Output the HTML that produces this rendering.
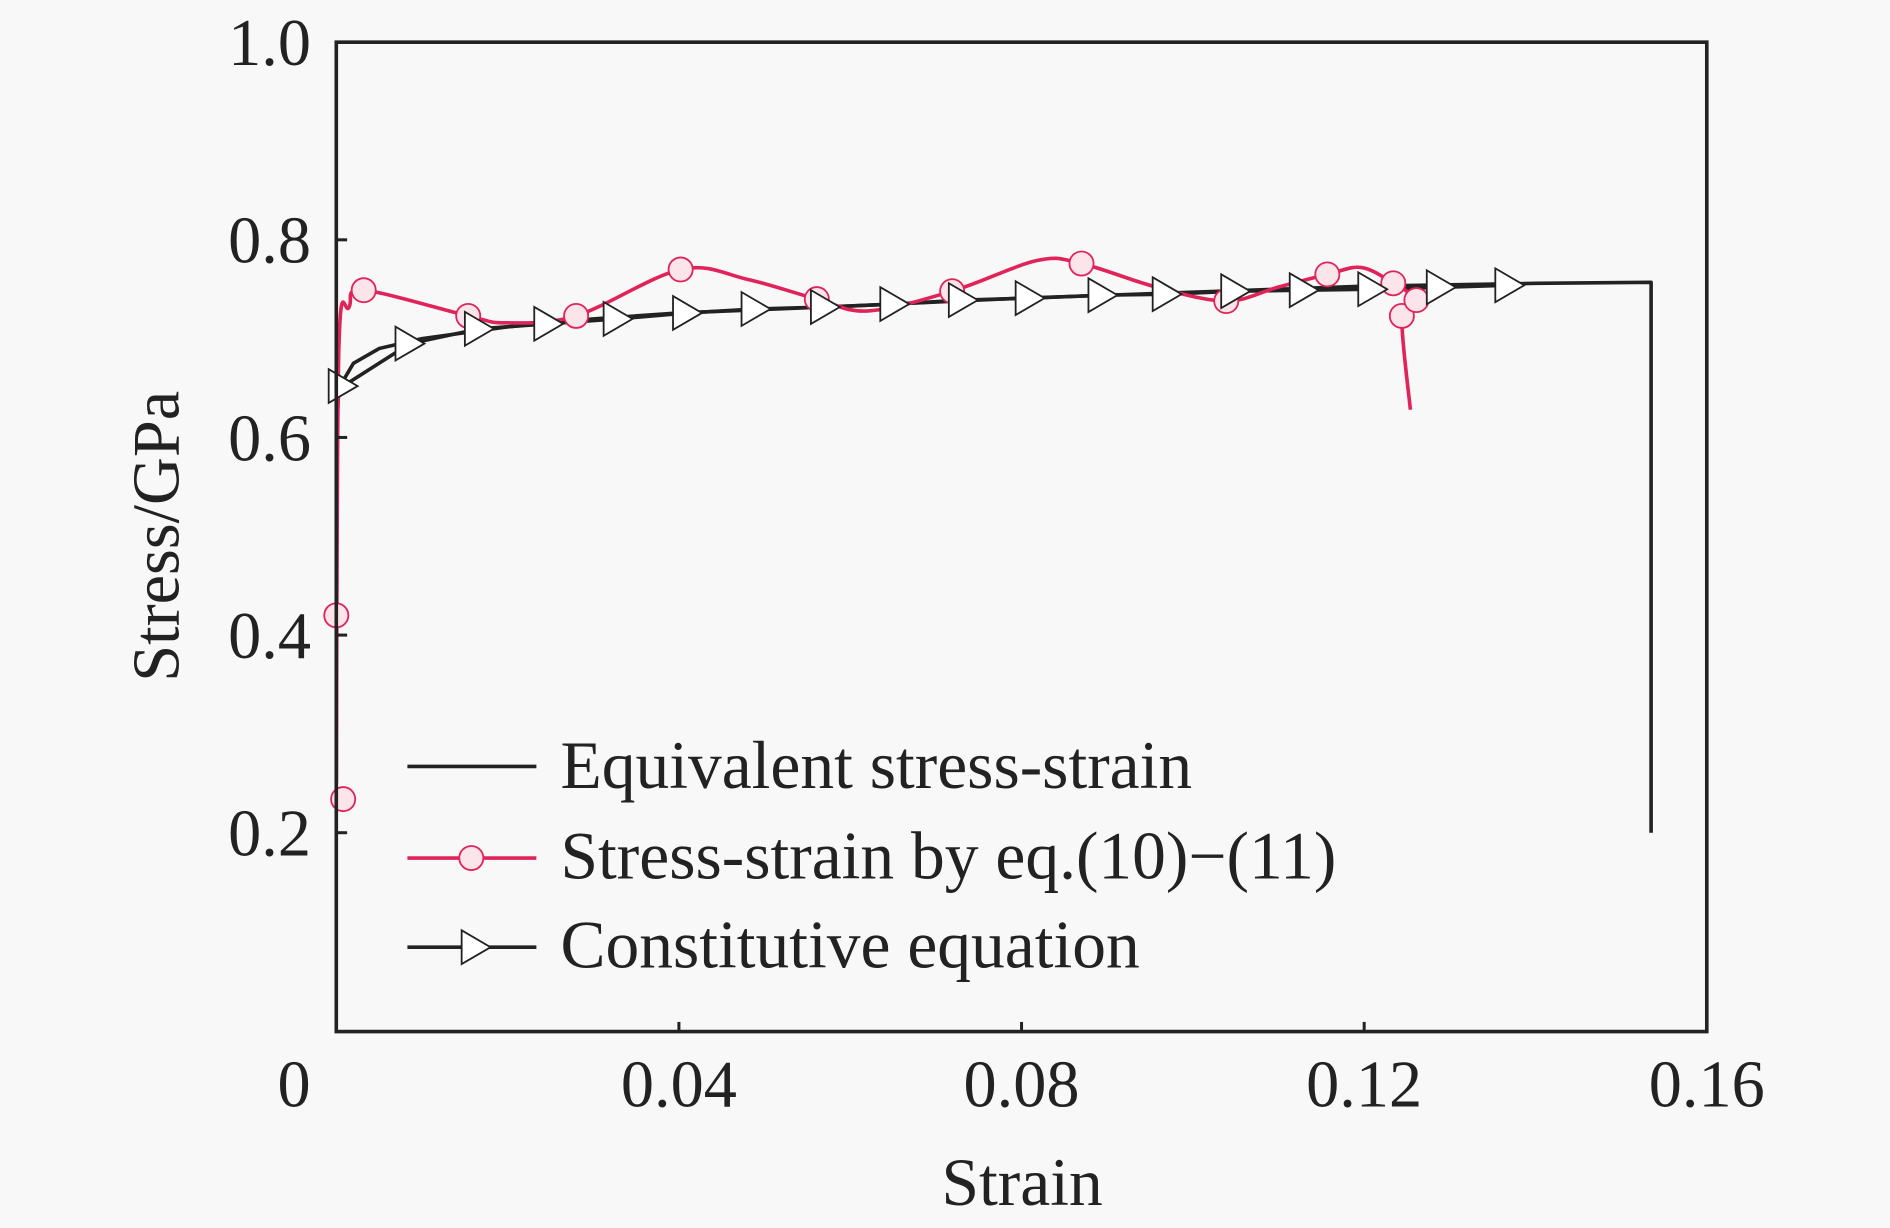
<!DOCTYPE html>
<html><head><meta charset="utf-8">
<style>
html,body{margin:0;padding:0;background:#f8f8f8;}
svg{display:block;font-family:"Liberation Serif",serif;}
</style></head>
<body>
<svg id="chart" width="1890" height="1228" viewBox="0 0 1568 1019" preserveAspectRatio="none" xmlns="http://www.w3.org/2000/svg">
<rect x="0" y="0" width="1568" height="1019" fill="#f8f8f8"/>
<g id="plot"></g>
<rect x="279" y="35" width="1137" height="821" fill="none" stroke="#222" stroke-width="3"/>
<g id="axes"></g>
<text x="148" y="445" font-size="55" text-anchor="middle" transform="rotate(-90 148 445)" fill="#222">Stress/GPa</text>
<text x="848" y="1000" font-size="56" text-anchor="middle" fill="#222">Strain</text>
<g>
 <g>
  <line x1="338" y1="636" x2="445" y2="636" stroke="#222" stroke-width="3"/>
  <text x="465" y="654" font-size="56" fill="#222">Equivalent stress-strain</text>
 </g>
 <g>
  <line x1="338" y1="712" x2="445" y2="712" stroke="#e0245a" stroke-width="3"/>
  <circle cx="391" cy="712" r="10" fill="#fbe4ea" stroke="#e0245a" stroke-width="1.5"/>
  <text x="465" y="729" font-size="56" fill="#222">Stress-strain by eq.(10)−(11)</text>
 </g>
 <g>
  <line x1="338" y1="786" x2="445" y2="786" stroke="#222" stroke-width="3"/>
  <path d="M383,772 L407,786 L383,800 Z" fill="#fff" stroke="#222" stroke-width="1.5"/>
  <text x="465" y="803" font-size="56" fill="#222">Constitutive equation</text>
 </g>
</g>
</svg>
<script>
const xTicks=[0,0.04,0.08,0.12,0.16];
const xTickLabels=["0","0.04","0.08","0.12","0.16"];
const yTicks=[0.2,0.4,0.6,0.8,1.0];
const yTickLabels=["0.2","0.4","0.6","0.8","1.0"];
const eqX=[0,0,0.0003,0.002,0.005,0.01,0.02,0.03,0.04,0.06,0.08,0.1,0.12,0.14,0.1535,0.1535];
const eqY=[0.25,0.6,0.65,0.675,0.69,0.70,0.712,0.72,0.726,0.733,0.741,0.747,0.753,0.756,0.757,0.2];
const redX=[0,0.0003,0.0015,0.0032,0.0154,0.0198,0.028,0.0402,0.048,0.0561,0.0621,0.0719,0.0818,0.087,0.0958,0.1039,0.1099,0.1157,0.1197,0.1234,0.1261,0.1244,0.1254];
const redY=[0.25,0.689,0.732,0.749,0.723,0.716,0.723,0.770,0.760,0.740,0.728,0.748,0.779,0.776,0.752,0.738,0.752,0.765,0.772,0.756,0.739,0.723,0.628];
const circX=[0.0008,0,0.0032,0.0154,0.028,0.0402,0.0561,0.0719,0.087,0.1039,0.1157,0.1234,0.1244,0.1261];
const circY=[0.234,0.42,0.749,0.723,0.723,0.770,0.740,0.748,0.776,0.738,0.765,0.756,0.723,0.739];
const triX=[0.0008,0.0086,0.0167,0.0248,0.0329,0.041,0.049,0.0571,0.0652,0.0732,0.081,0.0895,0.097,0.105,0.113,0.121,0.129,0.137];
const triY=[0.652,0.695,0.71,0.715,0.72,0.726,0.73,0.732,0.735,0.739,0.741,0.744,0.745,0.748,0.749,0.750,0.752,0.754];

const NS="http://www.w3.org/2000/svg";
function sx(v){return 279+v/0.16*1137;}
function sy(v){return 855-v*820;}
const plot=document.getElementById('plot');
const axes=document.getElementById('axes');
function mk(tag,attrs,parent){const e=document.createElementNS(NS,tag);for(const k in attrs)e.setAttribute(k,attrs[k]);parent.appendChild(e);return e;}

xTicks.forEach((t,i)=>{
  if(i>0&&i<xTicks.length-1){
    const tk=mk('line',{x1:sx(t),x2:sx(t),y1:856,y2:848,stroke:'#222','stroke-width':2.5},axes);
    
    
  }
  const lb=mk('text',{x:i===0?244:sx(t),y:918,'font-size':55,'text-anchor':'middle',fill:'#222'},axes);
  lb.textContent=xTickLabels[i];
  
  
});
yTicks.forEach((t,i)=>{
  if(t<1){
    const tk=mk('line',{x1:279,x2:288,y1:sy(t),y2:sy(t),stroke:'#222','stroke-width':2.5},axes);
    
    
  }
  const lb=mk('text',{x:258,y:sy(t)+19,'font-size':55,'text-anchor':'end',fill:'#222'},axes);
  lb.textContent=yTickLabels[i];
  
  
});

function pts(xs,ys){return xs.map((x,i)=>sx(x).toFixed(1)+','+sy(ys[i]).toFixed(1)).join(' ');}
function smooth(xs,ys){
  const p=xs.map((x,i)=>[sx(x),sy(ys[i])]);
  let d='M'+p[0][0].toFixed(1)+','+p[0][1].toFixed(1);
  for(let i=0;i<p.length-1;i++){
    const p0=p[Math.max(0,i-1)],p1=p[i],p2=p[i+1],p3=p[Math.min(p.length-1,i+2)];
    const c1=[p1[0]+(p2[0]-p0[0])/6,p1[1]+(p2[1]-p0[1])/6];
    const c2=[p2[0]-(p3[0]-p1[0])/6,p2[1]-(p3[1]-p1[1])/6];
    d+=` C${c1[0].toFixed(1)},${c1[1].toFixed(1)} ${c2[0].toFixed(1)},${c2[1].toFixed(1)} ${p2[0].toFixed(1)},${p2[1].toFixed(1)}`;
  }
  return d;
}
const eqLine=mk('polyline',{points:pts(eqX,eqY),fill:'none',stroke:'#222','stroke-width':3,'stroke-linejoin':'round'},plot);



const conLine=mk('polyline',{points:pts(triX,triY),fill:'none',stroke:'#222','stroke-width':3},plot);



const redLine=mk('path',{d:smooth(redX,redY),fill:'none',stroke:'#e0245a','stroke-width':3,'stroke-linejoin':'round'},plot);



circX.forEach((x,i)=>{
  const c=mk('circle',{cx:sx(x),cy:sy(circY[i]),r:10,fill:'#fbe4ea',stroke:'#e0245a','stroke-width':1.5},plot);
  
  
});
triX.forEach((x,i)=>{
  const cx=sx(x),cy=sy(triY[i]);
  const p=mk('path',{d:`M${cx-12},${cy-14} L${cx+12},${cy} L${cx-12},${cy+14} Z`,fill:'#fff',stroke:'#222','stroke-width':1.5},plot);
  
  
});
</script>
</body></html>
